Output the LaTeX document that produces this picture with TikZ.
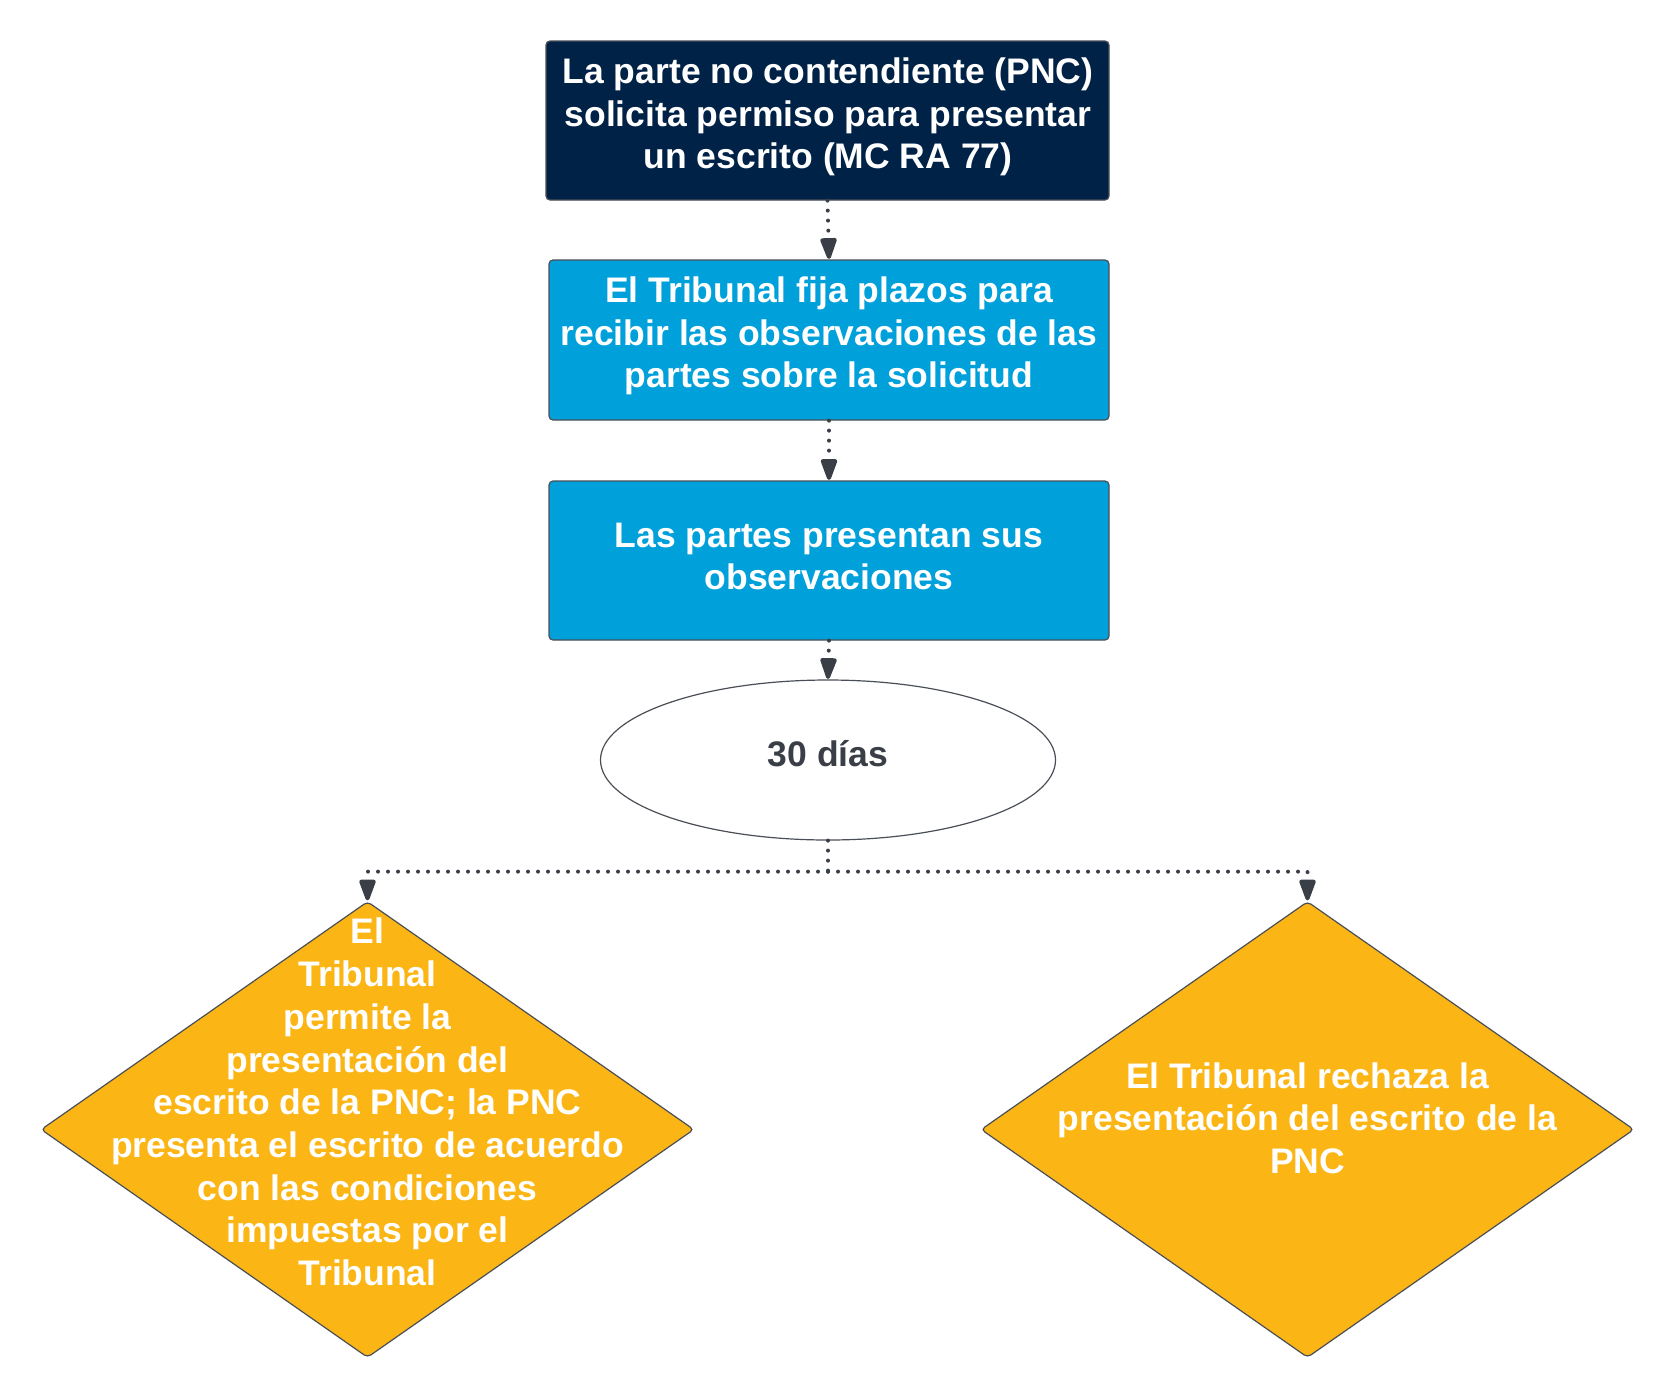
\documentclass[tikz,border=0pt]{standalone}
\usepackage{fontspec}
\setmainfont{Liberation Sans}
\usetikzlibrary{shapes.geometric,arrows.meta}
\definecolor{navy}{HTML}{012247}
\definecolor{cyanbox}{HTML}{00A0DB}
\definecolor{amber}{HTML}{FBB615}
\definecolor{darkline}{HTML}{3A3F47}
\definecolor{edge}{HTML}{4A4F57}
\tikzset{
  boxshape/.style={rectangle, draw=edge, line width=1.2pt, rounded corners=4pt, inner sep=0pt, minimum width=#1},
  boxshape/.default=560pt,
  txt/.style={align=center, font=\fontsize{35.5}{42.7}\selectfont\bfseries, text=white, inner sep=0pt},
  dotline/.style={draw=darkline, line width=4pt, line cap=round, dash pattern=on 0pt off 10pt},
  conn/.style={dotline, -{Triangle[width=17pt,length=25pt,round]}, shorten >=0.5pt},
  dia/.style={diamond, draw=edge, line width=1.2pt, fill=amber, rounded corners=4pt, inner sep=0pt, minimum width=653pt, minimum height=456pt}
}
\begin{document}
\begin{tikzpicture}[x=1pt,y=-1pt]
\useasboundingbox[fill=white] (0,0) rectangle (1675,1398);
% shapes
\node[boxshape=563pt, fill=navy, minimum height=159pt] (b1) at (827.5,120.5) {};
\node[boxshape=560pt, fill=cyanbox, minimum height=160pt] (b2) at (829,340) {};
\node[boxshape=560pt, fill=cyanbox, minimum height=159pt] (b3) at (829,560.5) {};
\node[ellipse, draw=edge, line width=1.2pt, fill=white, inner sep=0pt, minimum width=455pt, minimum height=160pt] (ell) at (828,760) {};
\node[dia] (d1) at (367.5,1129.5) {};
\node[dia] (d2) at (1307.5,1129.5) {};
% texts
\node[txt] (t1) at (828,117) {La parte no contendiente (PNC)\\solicita permiso para presentar\\un escrito (MC RA 77)};
\node[txt] (t2) at (829,336) {El Tribunal fija plazos para\\recibir las observaciones de las\\partes sobre la solicitud};
\node[txt] (t3) at (829,556.5) {Las partes presentan sus\\observaciones};
\node[txt, text=darkline] (t4) at (828,754) {30 días};
\node[txt] (t5) at (367.5,1102) {El\\Tribunal\\permite la\\presentación del\\escrito de la PNC; la PNC\\presenta el escrito de acuerdo\\con las condiciones\\impuestas por el\\Tribunal};
\node[txt] (t6) at (1307.5,1118) {El Tribunal rechaza la\\presentación del escrito de la\\PNC};
% connectors
\draw[conn] (b1.south) -- (b2.north);
\draw[conn] (b2.south) -- (b3.north);
\draw[conn] (b3.south) -- (ell.north);
\draw[dotline] (ell.south) -- ++(0,31) coordinate (j);
\draw[conn] (j) -| (d1.north);
\draw[conn] (j) -| (d2.north);
\end{tikzpicture}
\end{document}
